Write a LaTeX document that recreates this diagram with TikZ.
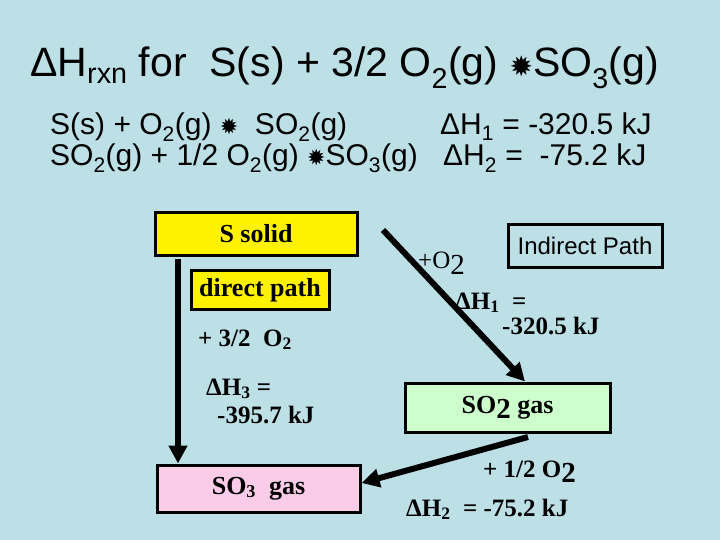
\documentclass[tikz,border=0pt]{standalone}
\usepackage{fontspec}
\setmainfont{Liberation Serif}
\setsansfont{Liberation Sans}
\newfontfamily\djvfont{DejaVu Sans}
\usetikzlibrary{arrows.meta}
\definecolor{bg}{HTML}{BCE0E6}
\tikzset{
 boxs/.style={draw=black,line width=3pt,inner sep=0pt,font=\bfseries\fontsize{26}{28}\selectfont},
 hdr/.style={anchor=base west,inner sep=0pt,font=\sffamily\fontsize{30}{32}\selectfont},
 lab/.style={anchor=base west,inner sep=0pt,font=\bfseries\fontsize{25}{28}\selectfont},
 arr/.style={line width=6pt,-{Triangle[length=18pt,width=18pt]}},
}
\newcommand{\sta}{{\djvfont\fontsize{22}{22}\selectfont ✹}}
\begin{document}
\begin{tikzpicture}[x=1pt,y=-1pt]
\fill[bg] (0,0) rectangle (720,540);
\useasboundingbox (0,0) rectangle (720,540);
\node[anchor=base west,inner sep=0pt,font=\sffamily\fontsize{41}{44}\selectfont] (t) at (30,77)
 {ΔH\textsubscript{rxn} for\ \ S(s) + 3/2 O\textsubscript{2}(g) {\djvfont\fontsize{28}{28}\selectfont ✹}SO\textsubscript{3}(g)};
\node[hdr] (l1) at (50,135) {S(s) + O\textsubscript{2}(g) \sta\ \ SO\textsubscript{2}(g)};
\node[hdr] (e1) at (440,135) {ΔH\textsubscript{1} = -320.5 kJ};
\node[hdr] (l2) at (50,166) {SO\textsubscript{2}(g) + 1/2 O\textsubscript{2}(g) \sta SO\textsubscript{3}(g)};
\node[hdr] (e2) at (443,166) {ΔH\textsubscript{2} = \ -75.2 kJ};

\node[boxs,fill=yellow,minimum width=202pt,minimum height=42pt] (s) at (256,234) {S solid};
\node[boxs,fill=yellow,minimum width=138pt,minimum height=39pt] (dp) at (260,290) {direct path};
\node[boxs,fill=magenta!20,minimum width=203pt,minimum height=47pt] (so3) at (258.5,488.5) {SO\textsubscript{3}\ \ gas};
\node[boxs,fill=green!20,minimum width=205pt,minimum height=49pt] (so2) at (507.5,407.5) {SO{\fontsize{29}{29}\selectfont\raisebox{-5pt}{2}} gas};
\node[draw=black,line width=3pt,inner sep=0pt,minimum width=154pt,minimum height=42pt,font=\sffamily\fontsize{24}{26}\selectfont] (ip) at (585,246) {Indirect Path};

\coordinate (a1) at (178,259);
\coordinate (a2) at (383,230);
\coordinate (a3) at (528,437);
\draw[arr] (a1) -- (so3.north -| a1);
\draw[arr] (a2) -- (so2.north -| 525,0);
\draw[arr] (a3) -- (so3.east |- 0,483);

\node[lab,font=\mdseries\fontsize{25}{28}\selectfont] (o2) at (418,268) {+O{\fontsize{29}{29}\selectfont\raisebox{-6pt}{2}}};
\node[lab] (h1) at (455,309) {ΔH\textsubscript{1}\ \ =};
\node[lab] (h1v) at (502,334) {-320.5 kJ};
\node[lab] (o3) at (198,346) {+ 3/2\ \ O\textsubscript{2}};
\node[lab] (h3) at (206,395) {ΔH\textsubscript{3} =};
\node[lab] (h3v) at (217,423) {-395.7 kJ};
\node[lab] (o4) at (483,477) {+ 1/2 O{\fontsize{29}{29}\selectfont\raisebox{-5pt}{2}}};
\node[lab] (h2) at (406,516) {ΔH\textsubscript{2}\ \ = -75.2 kJ};
\end{tikzpicture}
\end{document}
